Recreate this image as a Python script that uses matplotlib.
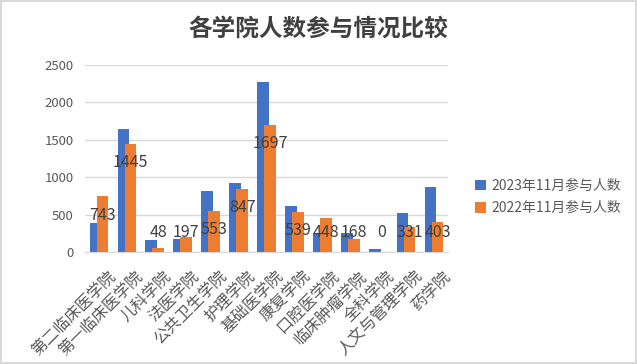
import matplotlib
matplotlib.use("Agg")
import matplotlib.pyplot as plt
import matplotlib.transforms as mtransforms
import numpy as np

plt.rcParams['font.family'] = ['Noto Sans CJK SC', 'DejaVu Sans']

# data
colleges = ['第二临床医学院', '第一临床医学院', '儿科学院', '法医学院', '公共卫生学院',
            '护理学院', '基础医学院', '康复学院', '口腔医学院', '临床肿瘤学院',
            '全科学院', '人文与管理学院', '药学院']
n2023 = [390, 1640, 160, 178, 814, 921, 2270, 614, 250, 255, 40, 520, 872]
n2022 = [743, 1445, 48, 197, 553, 847, 1697, 539, 448, 168, 0, 331, 403]
series_names = ['2023年11月参与人数', '2022年11月参与人数']
yticks = [0, 500, 1000, 1500, 2000, 2500]

blue = '#4472C4'
orange = '#ED7D31'
grey = '#595959'

fig = plt.figure(figsize=(6.37, 3.64), dpi=100)
fig.patch.set_edgecolor('#d9d9d9')
fig.patch.set_linewidth(1.5)
ax = fig.add_axes([85 / 637, 1 - 252 / 364, (448 - 85) / 637, (252 - 64.7) / 364])

x = np.arange(len(colleges))
w = 0.42
ax.bar(x - 0.125, n2023, w, color=blue, label=series_names[0], zorder=2)
ax.bar(x + 0.125, n2022, w, color=orange, label=series_names[1], zorder=3)

# data labels on the 2022 bars, sitting just inside the top
for xi, v in zip(x, n2022):
    ax.text(xi + 0.125, max(v - 255, 258), str(v), ha='center', va='center',
            fontsize=11.5, color='#404040', zorder=4)

ax.set_xlim(-0.5, len(colleges) - 0.5)
ax.set_ylim(0, 2500)
ax.set_yticks(yticks)
ax.set_yticklabels([str(t) for t in yticks], color=grey, fontsize=9.5)
ax.yaxis.grid(True, color='#d9d9d9', linewidth=1, zorder=0)
ax.set_axisbelow(True)
for s in ['top', 'right', 'left']:
    ax.spines[s].set_visible(False)
ax.spines['bottom'].set_color('#d9d9d9')
ax.tick_params(axis='both', length=0)
ax.tick_params(axis='y', pad=8)

ax.set_xticks(x)
ax.set_xticklabels(colleges, rotation=45, ha='right', va='top',
                   rotation_mode='anchor', fontsize=11.5, color=grey)
shift = mtransforms.ScaledTranslation(8 / 100, -11 / 100, fig.dpi_scale_trans)
for lab in ax.get_xticklabels():
    lab.set_transform(lab.get_transform() + shift)

fig.text(0.5, 0.92, '各学院人数参与情况比较', ha='center', va='center',
         fontsize=17, fontweight='bold', color='#404040')

fig.legend(loc='center left', bbox_to_anchor=(462 / 637, 1 - 197 / 364),
           frameon=False, fontsize=10, labelcolor=grey,
           handlelength=0.8, handleheight=0.8, handletextpad=0.4, labelspacing=0.6)

fig.savefig('out.png', dpi=100)
